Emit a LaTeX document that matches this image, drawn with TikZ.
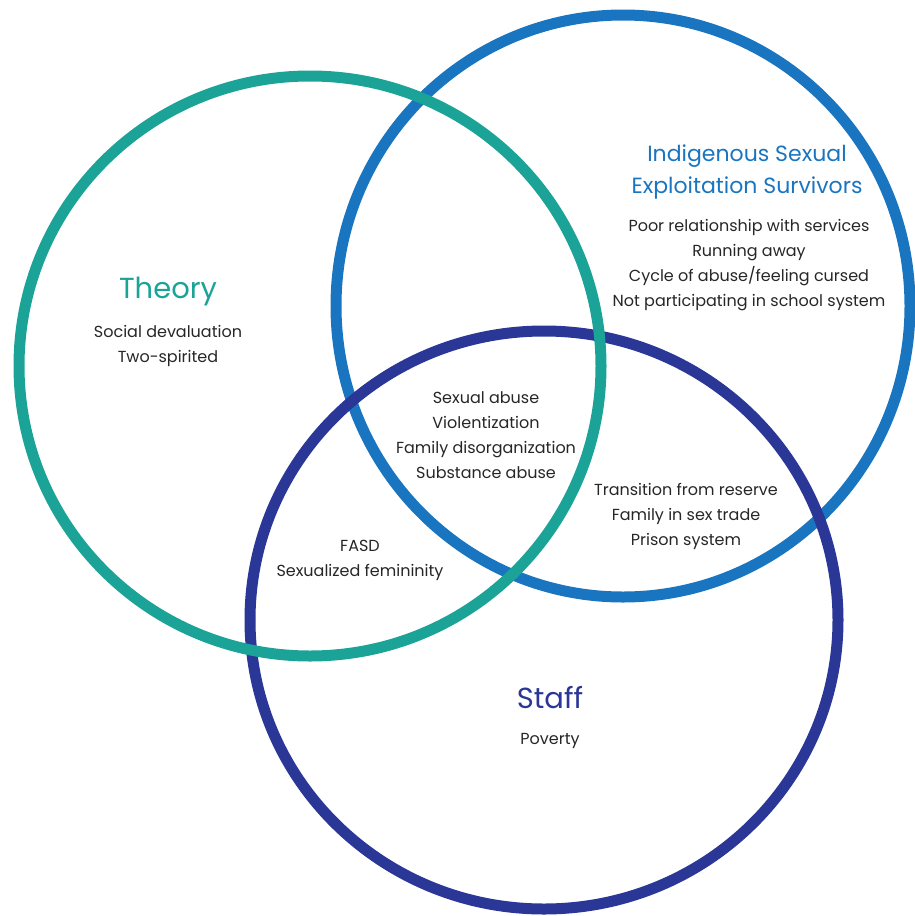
\documentclass[tikz,border=0pt]{standalone}
\usepackage{fontspec}
\setmainfont{Poppins}
\definecolor{theoryteal}{RGB}{27,163,152}
\definecolor{survivorblue}{RGB}{26,117,192}
\definecolor{staffnavy}{RGB}{42,55,150}

\begin{document}
\begin{tikzpicture}[x=1pt,y=-1pt]
	\tikzset{ring/.style={line width=11pt}}
	\tikzset{title/.style={align=center,font=\fontsize{29}{32}\selectfont}}
	\tikzset{subtitle/.style={align=center,font=\fontsize{22}{32}\selectfont}}
	\tikzset{items/.style={align=center,font=\fontsize{16}{25}\selectfont,text=black!85}}

	\useasboundingbox (0,0) rectangle (914,916);

	\draw[ring,survivorblue] (623,306) ellipse [x radius=287pt,y radius=291pt];
	\draw[ring,staffnavy] (544,620) ellipse [x radius=294pt,y radius=289pt];
	\draw[ring,theoryteal] (310,366) ellipse [x radius=291pt,y radius=290pt];

	\node[title,text=theoryteal] (theory) at (168,292) {Theory};
	\node[items] (theoryitems) at (168,345.5) {Social devaluation\\Two-spirited};

	\node[subtitle,text=survivorblue] (survivors) at (747,171.5)
	    {Indigenous Sexual\\Exploitation Survivors};
	\node[items] (survivoritems) at (749,265.5)
	    {Poor relationship with services\\Running away\\Cycle of abuse/feeling cursed\\Not participating in school system};

	\node[items] (core) at (486,435.5)
	    {Sexual abuse\\Violentization\\Family disorganization\\Substance abuse};
	\node[items] (survivorstaff) at (686,516)
	    {Transition from reserve\\Family in sex trade\\Prison system};
	\node[items] (theorystaff) at (360,560) {FASD\\Sexualized femininity};

	\node[title,text=staffnavy] (staff) at (550,698) {Staff};
	\node[items] (staffitems) at (550,741) {Poverty};
\end{tikzpicture}
\end{document}
